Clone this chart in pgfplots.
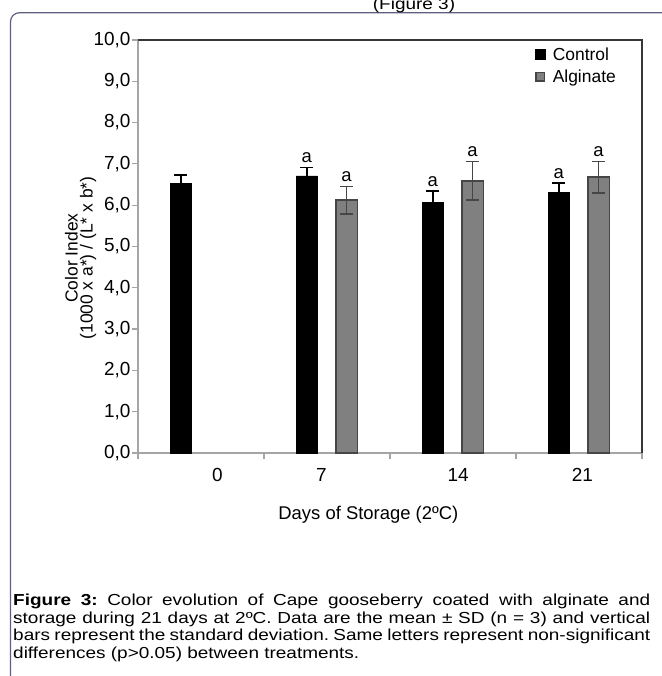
\documentclass[border=0pt]{standalone}
\usepackage{pgfplots}
\pgfplotsset{compat=1.18}
\usepackage{fontspec}
\setmainfont{Liberation Sans}
\definecolor{algfill}{RGB}{128,128,128}
\definecolor{algdraw}{RGB}{70,70,70}
\definecolor{axgray}{RGB}{165,165,165}
\definecolor{axdark}{RGB}{55,55,55}
\definecolor{framecol}{RGB}{95,95,130}

\pgfplotstableread{
x y e
0.34 6.53 0.20
1.34 6.71 0.20
2.34 6.07 0.27
3.34 6.31 0.22
}\controldata
\pgfplotstableread{
x y e
1.655 6.12 0.33
2.655 6.59 0.47
3.655 6.68 0.38
}\alginatedata

\begin{document}
\begin{tikzpicture}[x=1bp,y=1bp]
\useasboundingbox (0,0) rectangle (662,676);
\draw[framecol, line width=1.2bp, rounded corners=9bp] (10.5,-20) -- (10.5,663.3) -- (720,663.3);
\node[anchor=base, font=\fontsize{16}{17}\selectfont, inner sep=0pt, xscale=1.19] at (414,666) {(Figure 3)};
\begin{axis}[
  at={(138bp,223bp)}, anchor=south west,
  scale only axis, width=504bp, height=413bp,
  xmin=0, xmax=4, ymin=0, ymax=10,
  axis lines*=left,
  axis line style={axgray, line width=2.2bp},
  tick align=outside,
  major tick length=6bp,
  tick style={axgray, line width=1.2bp},
  xtick={0,1,2,3,4}, xticklabels={},
  extra x ticks={0.63,1.456,2.54,3.526},
  extra x tick labels={0,7,14,21},
  extra x tick style={major tick length=0pt, tick style={draw=none}},
  xticklabel style={anchor=center, yshift=-22bp},
  ytick={0,1,...,10},
  yticklabel style={xshift=2bp, /pgf/number format/fixed, /pgf/number format/fixed zerofill, /pgf/number format/precision=1, /pgf/number format/use comma, /pgf/number format/assume math mode=true},
  tick label style={font=\fontsize{19}{21}\selectfont, black},
  xlabel={Days of Storage (2ºC)},
  xlabel style={at={(axis description cs:0.457,-0.150)}, anchor=center, font=\fontsize{18.5}{20}\selectfont},
  ylabel={Color Index\\(1000 x a*) / (L* x b*)},
  ylabel style={at={(axis description cs:-0.114,0.472)}, anchor=center, align=center, font=\fontsize{17.5}{15}\selectfont},
  legend style={at={(rel axis cs:0.787,0.987)}, anchor=north west, draw=none, fill=none,
     font=\fontsize{17.5}{19}\selectfont, row sep=4bp, inner sep=0pt, cells={anchor=west}},
  clip=false,
]
\addplot[ybar, bar width=21.5bp, bar shift=0pt, fill=black, draw=black,
  legend image code/.code={\draw[fill=black,draw=black] (0bp,-5bp) rectangle (10bp,5bp); \path (15bp,0bp);},
  error bars/.cd, y dir=both, y explicit,
  error bar style={line width=1.6bp, black},
  error mark options={rotate=90, mark size=6.5bp, line width=1.6bp, black}]
  table[x=x, y=y, y error=e] {\controldata};
\addlegendentry{Control}
\addplot[ybar, bar width=21.5bp, bar shift=0pt, fill=algfill, draw=algdraw, line width=1.5bp,
  legend image code/.code={\draw[fill=algfill,draw=algdraw,line width=1.5bp] (0.75bp,-4.25bp) rectangle (9.25bp,4.25bp); \path (15bp,0bp);},
  error bars/.cd, y dir=both, y explicit,
  error bar style={line width=1.6bp, algdraw},
  error mark options={rotate=90, mark size=6.5bp, line width=1.6bp, algdraw}]
  table[x=x, y=y, y error=e] {\alginatedata};
\addlegendentry{Alginate}
\draw[axdark, line width=1.8bp] (rel axis cs:0,1) -- (rel axis cs:1,1) -- (rel axis cs:1,0);
\node[anchor=base, inner sep=0pt, font=\fontsize{18.5}{20}\selectfont] at (axis cs:1.34,7.03) {a};
\node[anchor=base, inner sep=0pt, font=\fontsize{18.5}{20}\selectfont] at (axis cs:1.655,6.57) {a};
\node[anchor=base, inner sep=0pt, font=\fontsize{18.5}{20}\selectfont] at (axis cs:2.34,6.46) {a};
\node[anchor=base, inner sep=0pt, font=\fontsize{18.5}{20}\selectfont] at (axis cs:2.655,7.18) {a};
\node[anchor=base, inner sep=0pt, font=\fontsize{18.5}{20}\selectfont] at (axis cs:3.34,6.65) {a};
\node[anchor=base, inner sep=0pt, font=\fontsize{18.5}{20}\selectfont] at (axis cs:3.655,7.18) {a};
\end{axis}
\node[anchor=north west, inner sep=0pt, text width=535.3bp, align=justify, xscale=1.19,
  font=\fontsize{16}{17.5}\selectfont] at (13,82) {\hyphenpenalty=10000\frenchspacing
  \textbf{Figure 3:} Color evolution of Cape gooseberry coated with alginate and\linebreak
  storage during 21 days at 2ºC. Data are the mean ± SD (n = 3) and vertical\linebreak
  bars represent the standard deviation. Same letters represent non-significant\linebreak
  differences (p>0.05) between treatments.};
\end{tikzpicture}
\end{document}
